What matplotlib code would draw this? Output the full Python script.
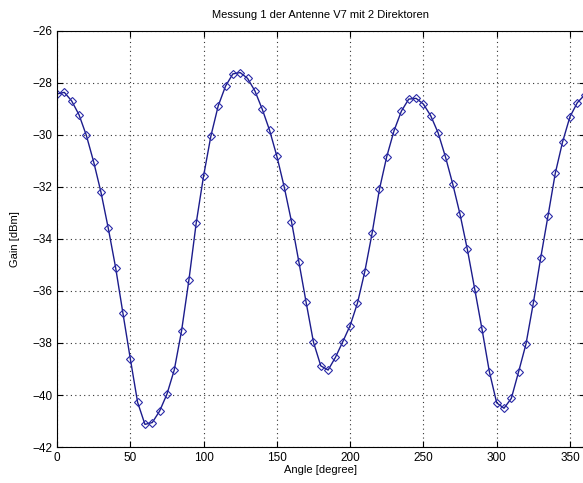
import matplotlib.pyplot as plt
import numpy as np

plt.rcParams["font.family"] = ["Liberation Sans", "DejaVu Sans"]

angle = np.arange(0, 365, 5)
gain = [-28.42, -28.36, -28.69, -29.22, -30.01, -31.03, -32.20, -33.59,
        -35.10, -36.86, -38.60, -40.28, -41.13, -41.06, -40.62, -39.97,
        -39.04, -37.53, -35.58, -33.38, -31.58, -30.04, -28.88, -28.12,
        -27.65, -27.60, -27.82, -28.30, -29.00, -29.81, -30.81, -31.99,
        -33.33, -34.87, -36.44, -37.97, -38.88, -39.04, -38.55, -37.95,
        -37.33, -36.47, -35.26, -33.78, -32.09, -30.83, -29.83, -29.08,
        -28.62, -28.59, -28.81, -29.26, -29.91, -30.83, -31.88, -33.05,
        -34.40, -35.92, -37.47, -39.10, -40.30, -40.51, -40.13, -39.10,
        -38.04, -36.47, -34.74, -33.12, -31.47, -30.26, -29.30, -28.76,
        -28.46]

fig = plt.figure(figsize=(5.83, 4.83), dpi=100)
ax = fig.add_axes([57 / 583, 36 / 483, 527.6 / 583, 416 / 483])

ax.plot(angle, gain, "-", color="#1c1c8c", linewidth=1.0,
        marker="D", markersize=4.5, markerfacecolor="none",
        markeredgecolor="#2a2aa8", markeredgewidth=0.8)

ax.set_xlim(0, 360)
ax.set_ylim(-42, -26)
ax.set_xticks(range(0, 400, 50))
ax.set_yticks(range(-42, -25, 2))
ax.grid(True, linestyle=(0, (1, 3)), color="#333333", linewidth=0.8)
ax.tick_params(direction="in", top=True, right=True, labelsize=8.5, length=4)
for s in ax.spines.values():
    s.set_linewidth(0.8)

ax.set_title("Messung 1 der Antenne V7 mit 2 Direktoren", fontsize=8, pad=9)
ax.set_xlabel("Angle [degree]", fontsize=8, labelpad=1)
ax.set_ylabel("Gain [dBm]", fontsize=8, labelpad=9)

fig.savefig("out.png", dpi=100)
